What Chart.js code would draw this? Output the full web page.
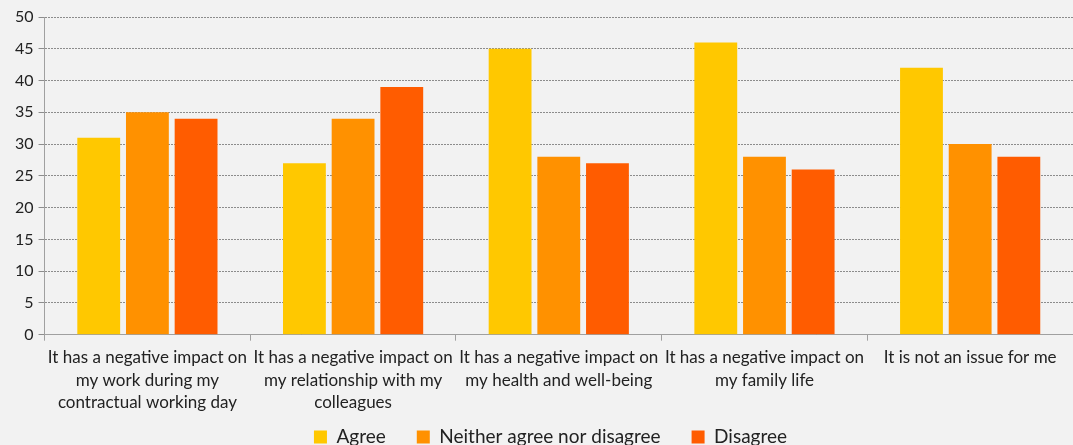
<!DOCTYPE html>
<html><head><meta charset="utf-8">
<script src="https://cdn.jsdelivr.net/npm/chart.js@4"></script>
<style>html,body{margin:0;padding:0;background:#f2f2f2;}#wrap{width:1073px;height:445px;}</style>
</head><body><div id="wrap"><canvas id="c"></canvas></div>
<script>
const categories = [
  ["It has a negative impact on","my work during my","contractual working day"],
  ["It has a negative impact on","my relationship with my","colleagues"],
  ["It has a negative impact on","my health and well-being"],
  ["It has a negative impact on","my family life"],
  ["It is not an issue for me"]
];
const agree = [31, 27, 45, 46, 42];
const neither = [35, 34, 28, 28, 30];
const disagree = [34, 39, 27, 26, 28];
const yTicks = [0,5,10,15,20,25,30,35,40,45,50];

const LEG_SHRINK = 24, LEG_CENTER_Y = 439, LEG_SHIFT_X = 9;
const legendTweak = {
  id: 'legendTweak',
  afterInit(chart) {
    const leg = chart.legend;
    if (!leg) return;
    const fit = leg.fit, draw = leg.draw;
    leg.fit = function() { fit.call(this); this.height -= LEG_SHRINK; };
    leg.draw = function() {
      const lo = this.options.labels;
      const f = Chart.helpers.toFont(lo.font);
      const itemH = Math.max(lo.boxHeight || 0, f.lineHeight);
      const saved = {top: this.top, bottom: this.bottom, left: this.left, right: this.right, height: this.height};
      const newTop = LEG_CENTER_Y - itemH / 2 - lo.padding;
      this.top = newTop; this.bottom = newTop + 200; this.height = 200;
      this.left += LEG_SHIFT_X; this.right += LEG_SHIFT_X;
      draw.call(this);
      Object.assign(this, saved);
    };
  }
};

Chart.defaults.font.family = "Lato, 'Open Sans', sans-serif";
Chart.defaults.color = '#222';
new Chart(document.getElementById('c'), {
  type: 'bar',
  plugins: [legendTweak],
  data: {
    labels: categories,
    datasets: [
      {label:'Agree', data: agree, backgroundColor:'#ffc800'},
      {label:'Neither agree nor disagree', data: neither, backgroundColor:'#ff9100'},
      {label:'Disagree', data: disagree, backgroundColor:'#ff5c00'}
    ]
  },
  options: {
    responsive: true, maintainAspectRatio: false, animation: false,
    datasets: {bar: {categoryPercentage: 0.71, barPercentage: 0.88}},
    layout: {padding: {top: 17, right: 0, left: 10, bottom: -11}},
    plugins: {
      tooltip: {enabled: false},
      legend: {
        position: 'bottom',
        labels: {boxWidth: 13, boxHeight: 13, padding: 31, font: {size: 19}, color: '#222'}
      }
    },
    scales: {
      x: {
        grid: {display: true, offset: true, drawOnChartArea: false, tickLength: 6, color: '#a0a0a0'},
        border: {display: true, color: '#a0a0a0'},
        ticks: {font: {size: 17, lineHeight: 1.32}, maxRotation: 0, autoSkip: false, padding: 6}
      },
      y: {
        min: 0, max: 50,
        afterBuildTicks: (s) => { s.ticks = yTicks.map(v => ({value: v})); },
        grid: {color: '#8c8c8c', tickLength: 6, lineWidth: 1},
        border: {display: true, color: '#a0a0a0', dash: [2, 1]},
        ticks: {font: {size: 16}, padding: 5, color: '#222'}
      }
    }
  }
});
</script></body></html>
